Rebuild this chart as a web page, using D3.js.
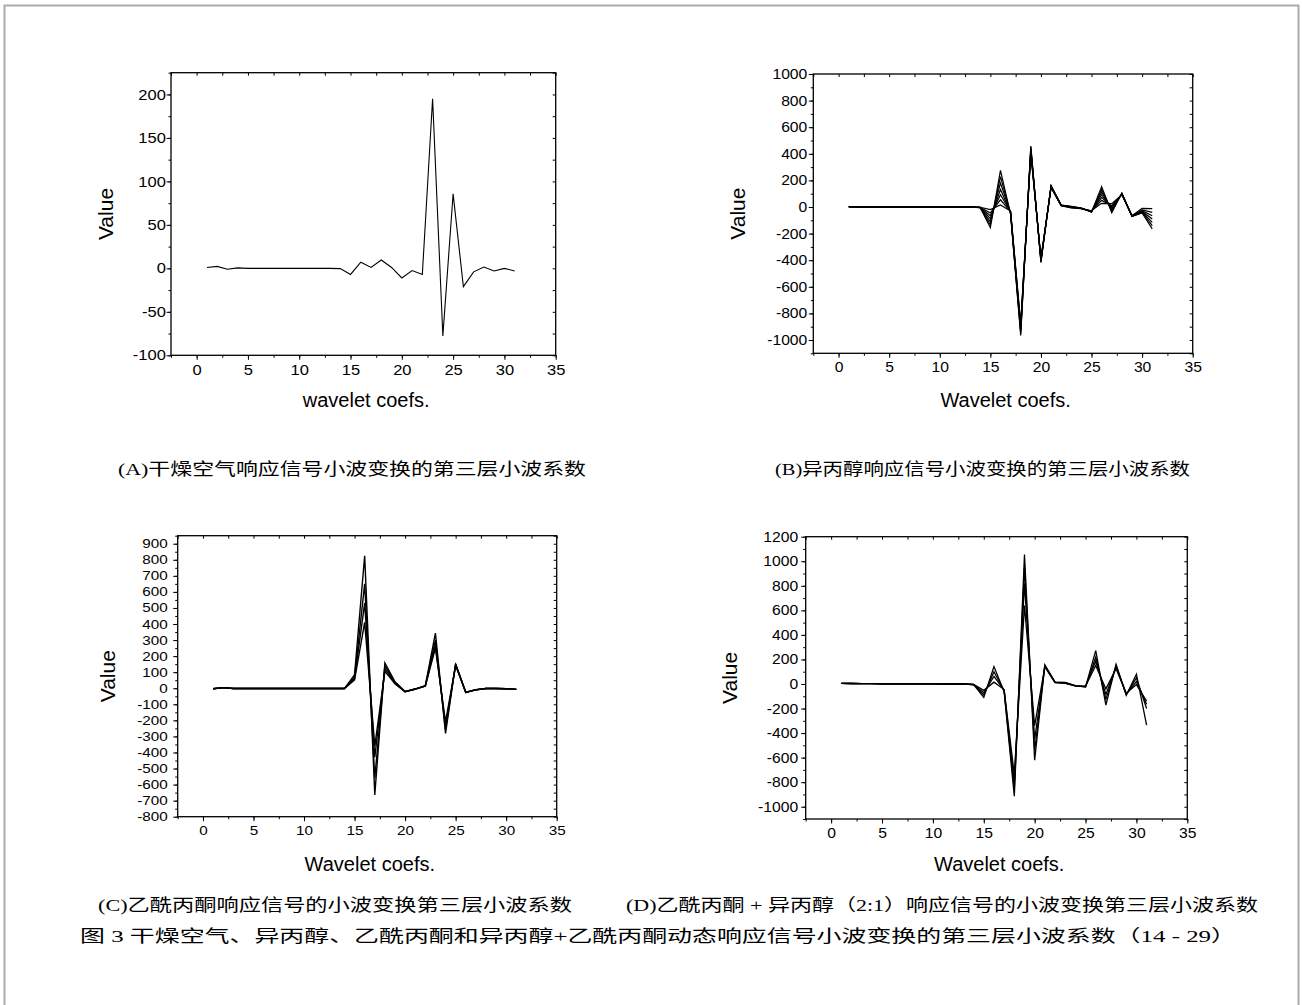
<!DOCTYPE html>
<html>
<head>
<meta charset="utf-8">
<script src="https://cdn.jsdelivr.net/npm/d3@7"></script>
<style>
  body { margin: 0; background: #fff; }
  svg { display: block; }
  .tick text { font-family: "Liberation Sans", Arial, sans-serif; fill: #000; }
  .caption { font-family: "Liberation Serif", "Noto Sans CJK SC", serif; fill: #000; }
</style>
</head>
<body>
<svg id="chart"></svg>
<script>
// coefficient index on the x axis
const coefIndex = d3.range(1, 32);

const xTicks = [0, 5, 10, 15, 20, 25, 30, 35];
const xMinor = d3.range(-2.5, 35.1, 2.5);

// (A) dry air - one curve
const seriesA = [
  [1, 2.3, -1, 0.5, 0, 0, 0, 0, 0, 0, 0, 0, 0, -0.3, -7, 7, 1, 9.6, 1, -11, -2.5, -7, 195, -77.7, 85.7, -21, -4, 1.5, -3, 0, -3]
];
const yTicksA = [-100, -50, 0, 50, 100, 150, 200];
const yMinorA = d3.range(-100, 226, 25);

// (B) isopropanol
const seriesB = [
  [2, 1, 0, 0, 0, 0, 0, 0, 0, 0, 0, 0, 0, -5, -155, 276, -55, -965, 458, -418, 162, 15, 5, -8, -40, 153, -43, 105, -72, -45, -165],
  [2, 1, 0, 0, 0, 0, 0, 0, 0, 0, 0, 0, 0, -4, -132, 228, -50, -950, 450, -412, 159, 14, 3, -9, -38, 132, -32, 103, -70, -40, -140],
  [2, 1, 0, 0, 0, 0, 0, 0, 0, 0, 0, 0, 0, -4, -110, 180, -45, -935, 440, -406, 156, 13, 2, -10, -36, 112, -20, 100, -70, -36, -115],
  [2, 1, 0, 0, 0, 0, 0, 0, 0, 0, 0, 0, 0, -3, -88, 132, -41, -920, 430, -400, 153, 12, 0, -10, -34, 92, -10, 98, -68, -32, -90],
  [2, 1, 0, 0, 0, 0, 0, 0, 0, 0, 0, 0, 0, -3, -66, 92, -38, -905, 420, -395, 150, 11, -2, -11, -32, 72, 0, 96, -68, -28, -66],
  [2, 1, 0, 0, 0, 0, 0, 0, 0, 0, 0, 0, 0, -2, -45, 54, -35, -890, 410, -390, 148, 10, -4, -12, -30, 50, 10, 94, -66, -22, -40],
  [2, 1, 0, 0, 0, 0, 0, 0, 0, 0, 0, 0, 0, -2, -20, 15, -30, -875, 400, -382, 145, 10, -6, -12, -28, 28, 25, 92, -65, -10, -12]
];
const yTicksB = [-1000, -800, -600, -400, -200, 0, 200, 400, 600, 800, 1000];
const yMinorB = d3.range(-1100, 1001, 100);

// (C) acetylacetone
const seriesC = [
  [-3, 4, -2, -2, -2, -2, -2, -2, -2, -2, -2, -2, -2, -2, 85, 825, -664, 158, 40, -20, -6, 16, 343, -281, 152, -27, -10, -2, -2, -3, -7],
  [-3, 4, -2, -2, -2, -2, -2, -2, -2, -2, -2, -2, -2, -2, 70, 650, -560, 140, 35, -21, -5, 15, 300, -255, 149, -26, -10, -2, -2, -3, -7],
  [-3, 4, -2, -2, -2, -2, -2, -2, -2, -2, -2, -2, -2, -2, 60, 530, -430, 122, 30, -22, -5, 14, 270, -235, 146, -25, -9, -2, -2, -3, -7],
  [-3, 4, -2, -2, -2, -2, -2, -2, -2, -2, -2, -2, -2, -2, 52, 410, -360, 105, 28, -22, -4, 13, 250, -210, 142, -24, -9, -2, -2, -3, -6]
];
const yTicksC = d3.range(-800, 901, 100);
const yMinorC = d3.range(-800, 951, 50);

// (D) acetylacetone + isopropanol (2:1)
const seriesD = [
  [5, 4, 3, 3, 2, 2, 2, 1, 1, 1, 0, 0, 0, -5, -110, 142, -62, -915, 1054, -621, 156, 15, 12, -14, -25, 272, -172, 160, -92, 80, -335],
  [5, 4, 3, 3, 2, 2, 2, 1, 1, 1, 0, 0, 0, -5, -90, 100, -56, -860, 950, -540, 150, 14, 10, -15, -22, 220, -125, 150, -86, 50, -200],
  [5, 4, 3, 3, 2, 2, 2, 1, 1, 1, 0, 0, 0, -4, -72, 62, -50, -800, 820, -450, 146, 13, 8, -15, -20, 185, -85, 140, -82, 20, -165],
  [5, 4, 3, 3, 2, 2, 2, 1, 1, 1, 0, 0, 0, -4, -52, 15, -45, -740, 640, -340, 140, 12, 6, -16, -18, 150, -40, 125, -76, -5, -140]
];
const yTicksD = [-1000, -800, -600, -400, -200, 0, 200, 400, 600, 800, 1000, 1200];
const yMinorD = d3.range(-1100, 1201, 100);

const captions = [
  "(A)干燥空气响应信号小波变换的第三层小波系数",
  "(B)异丙醇响应信号小波变换的第三层小波系数",
  "(C)乙酰丙酮响应信号的小波变换第三层小波系数",
  "(D)乙酰丙酮 + 异丙醇（2:1）响应信号的小波变换第三层小波系数",
  "图 3 干燥空气、异丙醇、乙酰丙酮和异丙醇+乙酰丙酮动态响应信号小波变换的第三层小波系数（14 - 29）"
];

const W = 1302, H = 1005;
const svg = d3.select("#chart").attr("width", W).attr("height", H);

// light grey frame round the whole figure
svg.append("rect")
    .attr("x", 4.5).attr("y", 5.5)
    .attr("width", 1294).attr("height", 1010)
    .attr("fill", "none").attr("stroke", "#aaa").attr("stroke-width", 2);

const panels = [
  { series: seriesA, yDomain: [-100, 225], yTicks: yTicksA, yMinor: yMinorA,
    box: { l: 171, r: 555.7, t: 72.7, b: 355.3 }, xLabel: "wavelet coefs.",
    valueX: 113, xLabelY: 407, font: 14.5, stretch: 1.14, gap: 5, lw: 1.1 },
  { series: seriesB, yDomain: [-1100, 1000], yTicks: yTicksB, yMinor: yMinorB,
    box: { l: 813.3, r: 1192.7, t: 74, b: 353.3 }, xLabel: "Wavelet coefs.",
    valueX: 745, xLabelY: 407, font: 14, stretch: 1.12, gap: 6, lw: 1.2 },
  { series: seriesC, yDomain: [-800, 950], yTicks: yTicksC, yMinor: yMinorC,
    box: { l: 177.7, r: 556.7, t: 535.7, b: 816.7 }, xLabel: "Wavelet coefs.",
    valueX: 115, xLabelY: 871, font: 12.5, stretch: 1.22, gap: 10, lw: 1.4 },
  { series: seriesD, yDomain: [-1100, 1200], yTicks: yTicksD, yMinor: yMinorD,
    box: { l: 805.7, r: 1187.3, t: 536.7, b: 819 }, xLabel: "Wavelet coefs.",
    valueX: 737, xLabelY: 871, font: 14, stretch: 1.12, gap: 7.5, lw: 1.3 }
];

function styleAxis(g, p, labels) {
  g.select(".domain").remove();
  g.selectAll(".tick line").attr("stroke", "#000").attr("stroke-width", 1);
  if (labels) {
    g.selectAll(".tick text")
        .style("font-size", p.font + "px")
        .attr("transform", `scale(${p.stretch},1)`);
  }
}

function drawPanel(p) {
  const { l, r, t, b } = p.box;
  const x = d3.scaleLinear().domain([-2.5, 35]).range([l, r]);
  const y = d3.scaleLinear().domain(p.yDomain).range([b, t]);
  const g = svg.append("g");
  const fmt = d => String(d);

  // bottom axis, major + minor ticks outward
  g.append("g").attr("transform", `translate(0,${b})`)
      .call(d3.axisBottom(x).tickValues(xMinor).tickSize(2.5).tickFormat(""))
      .call(a => styleAxis(a, p, false));
  g.append("g").attr("transform", `translate(0,${b})`)
      .call(d3.axisBottom(x).tickValues(xTicks).tickSize(4.5).tickPadding(4.5).tickFormat(fmt))
      .call(a => styleAxis(a, p, true));

  // left axis; labels end p.gap px left of the frame
  g.append("g").attr("transform", `translate(${l},0)`)
      .call(d3.axisLeft(y).tickValues(p.yMinor).tickSize(2.5).tickFormat(""))
      .call(a => styleAxis(a, p, false));
  g.append("g").attr("transform", `translate(${l},0)`)
      .call(d3.axisLeft(y).tickValues(p.yTicks).tickSize(4.5)
          .tickPadding(Math.max(0, p.gap / p.stretch - 4.5)).tickFormat(fmt))
      .call(a => styleAxis(a, p, true));

  // top and right axes, ticks pointing in
  g.append("g").attr("transform", `translate(0,${t})`)
      .call(d3.axisTop(x).tickValues(xMinor).tickSize(-3).tickFormat(""))
      .call(a => styleAxis(a, p, false));
  g.append("g").attr("transform", `translate(${r},0)`)
      .call(d3.axisRight(y).tickValues(p.yMinor).tickSize(-3).tickFormat(""))
      .call(a => styleAxis(a, p, false));

  // frame
  g.append("rect")
      .attr("x", l).attr("y", t).attr("width", r - l).attr("height", b - t)
      .attr("fill", "none").attr("stroke", "#000").attr("stroke-width", 1.3);

  const line = d3.line().x((d, i) => x(coefIndex[i])).y(d => y(d));
  g.selectAll("path.curve").data(p.series).join("path")
      .attr("class", "curve")
      .attr("d", line)
      .attr("fill", "none").attr("stroke", "#000").attr("stroke-width", p.lw)
      .attr("stroke-linejoin", "miter");

  // axis titles
  g.append("text")
      .attr("transform", `translate(${p.valueX},${(t + b) / 2}) rotate(-90)`)
      .attr("text-anchor", "middle")
      .style("font-family", "Liberation Sans, Arial, sans-serif")
      .style("font-size", "21px")
      .text("Value");
  g.append("text")
      .attr("x", (x(0) + x(35)) / 2 - 10).attr("y", p.xLabelY)
      .attr("text-anchor", "middle")
      .style("font-family", "Liberation Sans, Arial, sans-serif")
      .style("font-size", "20px")
      .text(p.xLabel);
}

panels.forEach(drawPanel);

// captions under the panels
const capPos = [
  { x: 118, y: 475, w: 468 },
  { x: 775, y: 475, w: 415 },
  { x: 98, y: 911, w: 474 },
  { x: 626, y: 911, w: 632 },
  { x: 80, y: 942, w: 1156 }
];
svg.selectAll("text.caption").data(captions).join("text")
    .attr("class", "caption")
    .attr("x", (d, i) => capPos[i].x)
    .attr("y", (d, i) => capPos[i].y)
    .attr("textLength", (d, i) => capPos[i].w)
    .attr("lengthAdjust", "spacingAndGlyphs")
    .style("font-size", "17px")
    .text(d => d);
</script>
</body>
</html>
